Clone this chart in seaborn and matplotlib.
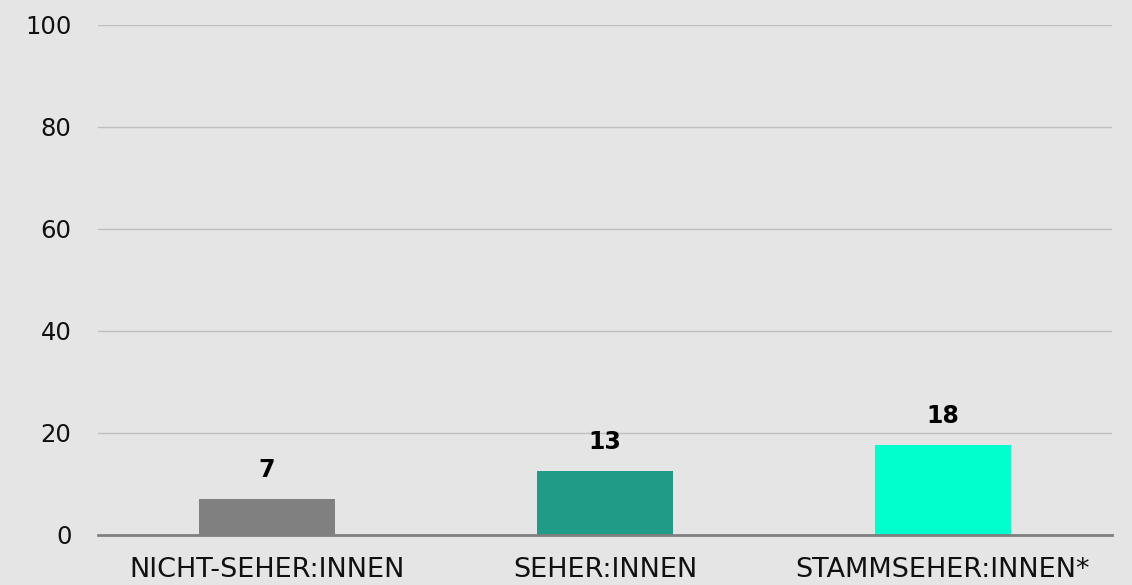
import matplotlib
matplotlib.use("Agg")
import matplotlib.pyplot as plt
import seaborn as sns
import pandas as pd

# Data
categories = ["NICHT-SEHER:INNEN", "SEHER:INNEN", "STAMMSEHER:INNEN*"]
values = [7.1, 12.6, 17.7]
value_labels = ["7", "13", "18"]
bar_colors = ["#808080", "#209b87", "#00ffcc"]
y_ticks = [0, 20, 40, 60, 80, 100]

df = pd.DataFrame({"kategorie": categories, "wert": values})

sns.set_theme(style="white")
plt.rcParams["font.family"] = ["DejaVu Sans"]

bg = "#e5e5e5"
fig, ax = plt.subplots(figsize=(11.32, 5.85), dpi=100)
fig.patch.set_facecolor(bg)
ax.set_facecolor(bg)
fig.subplots_adjust(left=98 / 1132, right=1112 / 1132, top=1 - 25 / 585, bottom=1 - 535 / 585)

sns.barplot(data=df, x="kategorie", y="wert", hue="kategorie", palette=bar_colors,
            width=0.4, legend=False, ax=ax, saturation=1, linewidth=0)

# value labels above bars
for i, (v, lab) in enumerate(zip(values, value_labels)):
    ax.annotate(lab, (i, v), xytext=(0, 12), textcoords="offset points",
                ha="center", va="bottom", fontsize=17, fontweight="heavy", color="black")

ax.set_xlim(-0.5, 2.5)
ax.set_ylim(0, 100)
ax.set_yticks(y_ticks)
ax.yaxis.grid(True, color="#bfbfbf", linewidth=1)
ax.set_axisbelow(True)
for s in ["top", "right", "left"]:
    ax.spines[s].set_visible(False)
ax.spines["bottom"].set_color("#808080")
ax.spines["bottom"].set_linewidth(2)
ax.spines["bottom"].set_zorder(5)

ax.tick_params(axis="y", length=0, pad=19, labelsize=17.5, labelcolor="#111111")
ax.tick_params(axis="x", length=0, pad=16, labelsize=19.5, labelcolor="#111111")
ax.set_xlabel("")
ax.set_ylabel("")

fig.savefig("out.png", dpi=100, facecolor=bg)
